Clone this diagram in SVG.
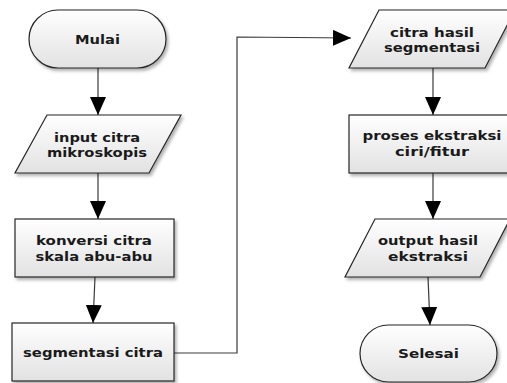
<svg xmlns="http://www.w3.org/2000/svg" width="507" height="383" viewBox="0 0 507 383">
<defs>
<linearGradient id="g" x1="0" y1="0" x2="0" y2="1">
<stop offset="0" stop-color="#ffffff"/>
<stop offset="1" stop-color="#e2e2e2"/>
</linearGradient>
<filter id="sh" x="-10%" y="-10%" width="125%" height="135%">
<feDropShadow dx="2" dy="2.5" stdDeviation="1.5" flood-color="#000" flood-opacity="0.3"/>
</filter>
<marker id="ah" markerUnits="userSpaceOnUse" markerWidth="18" markerHeight="16" refX="18" refY="8" orient="auto">
<path d="M0,0 L18,8 L0,16 Z" fill="#000"/>
</marker>
<style>
.s{fill:url(#g);stroke:#262626;stroke-width:1.2;filter:url(#sh)}
.t{font-family:"DejaVu Sans",Verdana,sans-serif;font-weight:bold;font-size:12px;fill:#1a1a1a;text-anchor:middle}
.c{fill:none;stroke:#3a3a3a;stroke-width:1.2;marker-end:url(#ah)}
</style>
</defs>
<rect width="507" height="383" fill="#fff"/>
<g id="connectors">
<path class="c" d="M98,68 L98,115"/>
<path class="c" d="M98,173 L98,219"/>
<path class="c" d="M95,277 L93,323"/>
<path class="c" d="M174,353 L237,353 L237,37 L351,38"/>
<path class="c" d="M433,68 L433,115"/>
<path class="c" d="M433,173 L433,219"/>
<path class="c" d="M428,277 L430,325"/>
</g>
<g id="mulai">
<rect class="s" x="29" y="10" width="137" height="58" rx="29" ry="29"/>
<text class="t" x="97.5" y="44" textLength="45" lengthAdjust="spacingAndGlyphs">Mulai</text>
</g>
<g id="input">
<polygon class="s" points="47,115 181,115 149,173 15,173"/>
<text class="t" x="97" y="141.5" textLength="86" lengthAdjust="spacingAndGlyphs">input citra</text>
<text class="t" x="97" y="156.5" textLength="100" lengthAdjust="spacingAndGlyphs">mikroskopis</text>
</g>
<g id="konversi">
<rect class="s" x="15" y="219" width="159" height="58"/>
<text class="t" x="94" y="245" textLength="116" lengthAdjust="spacingAndGlyphs">konversi citra</text>
<text class="t" x="94" y="260.5" textLength="117" lengthAdjust="spacingAndGlyphs">skala abu-abu</text>
</g>
<g id="segmentasi">
<rect class="s" x="12" y="323" width="162" height="58"/>
<text class="t" x="93" y="357" textLength="140" lengthAdjust="spacingAndGlyphs">segmentasi citra</text>
</g>
<g id="citra-hasil">
<polygon class="s" points="379,10 515,10 485,68 349,68"/>
<text class="t" x="432" y="36.5" textLength="84" lengthAdjust="spacingAndGlyphs">citra hasil</text>
<text class="t" x="432" y="51.5" textLength="96" lengthAdjust="spacingAndGlyphs">segmentasi</text>
</g>
<g id="proses">
<rect class="s" x="349" y="115" width="164" height="58"/>
<text class="t" x="432" y="140" textLength="139" lengthAdjust="spacingAndGlyphs">proses ekstraksi</text>
<text class="t" x="432" y="156" textLength="74" lengthAdjust="spacingAndGlyphs">ciri/fitur</text>
</g>
<g id="output">
<polygon class="s" points="375,219 510,219 480,277 345,277"/>
<text class="t" x="428" y="245" textLength="100" lengthAdjust="spacingAndGlyphs">output hasil</text>
<text class="t" x="428" y="260.5" textLength="80" lengthAdjust="spacingAndGlyphs">ekstraksi</text>
</g>
<g id="selesai">
<rect class="s" x="360" y="325" width="137" height="57" rx="28.5" ry="28.5"/>
<text class="t" x="428.5" y="357.5" textLength="61" lengthAdjust="spacingAndGlyphs">Selesai</text>
</g>
</svg>
